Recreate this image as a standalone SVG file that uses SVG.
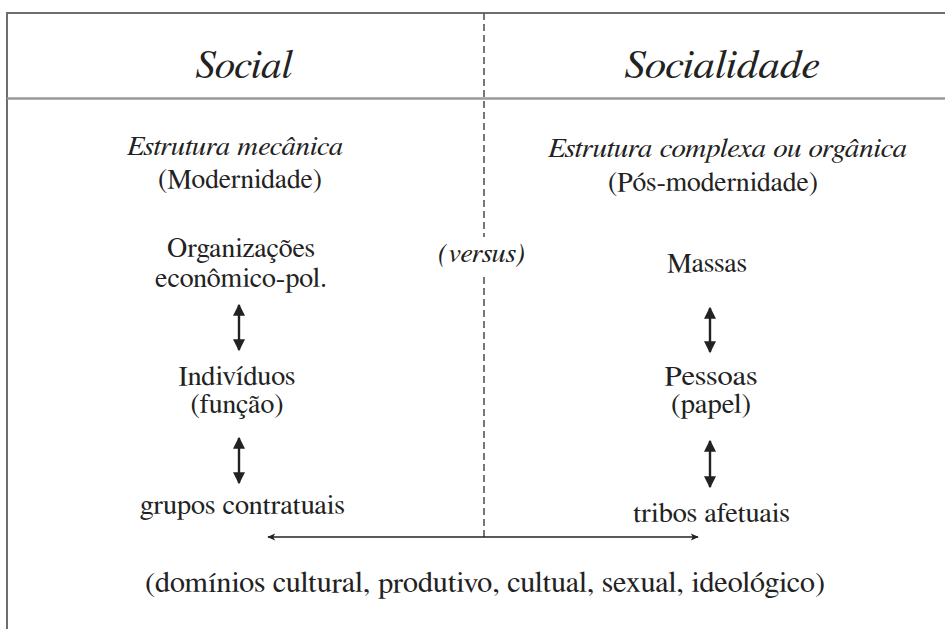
<svg xmlns="http://www.w3.org/2000/svg" width="945" height="629" viewBox="0 0 945 629" font-family="FreeSerif, 'Liberation Serif', serif">
<style>
text{fill:#222;text-anchor:middle}
.h{font-size:40px;font-style:italic}
.t{font-size:27px}
.b{font-size:29px}
.i{font-size:27.5px;font-style:italic}
.frame{stroke:#6e6e6e;stroke-width:2;fill:none}
.dash{stroke:#555;stroke-width:1.6;stroke-dasharray:7 4;fill:none}
.arr{stroke:#222;stroke-width:2.4;fill:none}
.arrh{stroke:#222;stroke-width:1.6;fill:none}
</style>
<defs>
<marker id="hv" viewBox="0 0 10 10" refX="9" refY="5" markerWidth="5.4" markerHeight="5" orient="auto-start-reverse" markerUnits="strokeWidth">
<path d="M0,0 L10,5 L0,10 z" fill="#222"/>
</marker>
<marker id="hh" viewBox="0 0 10 10" refX="9" refY="5" markerWidth="7" markerHeight="5" orient="auto-start-reverse" markerUnits="strokeWidth">
<path d="M0,0.5 L10,5 L0,9.5 L2.5,5 z" fill="#222"/>
</marker>
</defs>
<rect width="945" height="629" fill="#fff"/>
<g id="frame">
<path class="frame" d="M7,629 V13 H945"/>
<path d="M7,98.5 H945" stroke="#9a9a9a" stroke-width="2.5"/>
</g>
<g id="headers" font-family="FreeSerif, 'Liberation Serif', serif">
<text id="h-social" class="h" x="244" y="78" textLength="96" lengthAdjust="spacingAndGlyphs">Social</text>
<text id="h-socialidade" class="h" x="722" y="78" textLength="194" lengthAdjust="spacingAndGlyphs">Socialidade</text>
</g>
<g id="left" font-family="FreeSerif, 'Liberation Serif', serif">
<g id="n-estrutura-mec"><text class="i" x="235" y="155" textLength="216" lengthAdjust="spacingAndGlyphs">Estrutura mecânica</text></g>
<g id="n-modernidade"><text class="t" x="240" y="188" textLength="164" lengthAdjust="spacingAndGlyphs">(Modernidade)</text></g>
<g id="n-organizacoes"><text class="t" x="241" y="257" textLength="148" lengthAdjust="spacingAndGlyphs">Organizações</text><text class="t" x="241" y="287" textLength="172" lengthAdjust="spacingAndGlyphs">econômico-pol.</text></g>
<g id="n-individuos"><text class="t" x="237" y="385" textLength="117" lengthAdjust="spacingAndGlyphs">Indivíduos</text><text class="t" x="237" y="413" textLength="93" lengthAdjust="spacingAndGlyphs">(função)</text></g>
<g id="n-grupos"><text class="t" x="242.5" y="514" textLength="205" lengthAdjust="spacingAndGlyphs">grupos contratuais</text></g>
</g>
<g id="center" font-family="FreeSerif, 'Liberation Serif', serif">
<g id="n-versus"><text class="i" x="481.5" y="262" textLength="87" lengthAdjust="spacingAndGlyphs">(versus)</text></g>
<g id="n-dominios"><text class="b" x="485" y="592" textLength="680" lengthAdjust="spacingAndGlyphs">(domínios cultural, produtivo, cultual, sexual, ideológico)</text></g>
</g>
<g id="right" font-family="FreeSerif, 'Liberation Serif', serif">
<g id="n-estrutura-comp"><text class="i" x="727.5" y="157" textLength="359" lengthAdjust="spacingAndGlyphs">Estrutura complexa ou orgânica</text></g>
<g id="n-posmodernidade"><text class="t" x="713" y="191" textLength="210" lengthAdjust="spacingAndGlyphs">(Pós-modernidade)</text></g>
<g id="n-massas"><text class="t" x="707" y="272" textLength="80" lengthAdjust="spacingAndGlyphs">Massas</text></g>
<g id="n-pessoas"><text class="t" x="711" y="385" textLength="93" lengthAdjust="spacingAndGlyphs">Pessoas</text><text class="t" x="711" y="413" textLength="80" lengthAdjust="spacingAndGlyphs">(papel)</text></g>
<g id="n-tribos"><text class="t" x="711.5" y="522" textLength="157" lengthAdjust="spacingAndGlyphs">tribos afetuais</text></g>
</g>
<g id="connectors">
<path class="dash" d="M484,13 V237"/>
<path class="dash" d="M484,277 V537"/>
<path class="arr" d="M239,305 V350" marker-start="url(#hv)" marker-end="url(#hv)"/>
<path class="arr" d="M239,438 V483" marker-start="url(#hv)" marker-end="url(#hv)"/>
<path class="arr" d="M710,308 V352" marker-start="url(#hv)" marker-end="url(#hv)"/>
<path class="arr" d="M710,441 V487" marker-start="url(#hv)" marker-end="url(#hv)"/>
<path class="arrh" d="M268,537 H698" marker-start="url(#hh)" marker-end="url(#hh)"/>
</g>
</svg>
